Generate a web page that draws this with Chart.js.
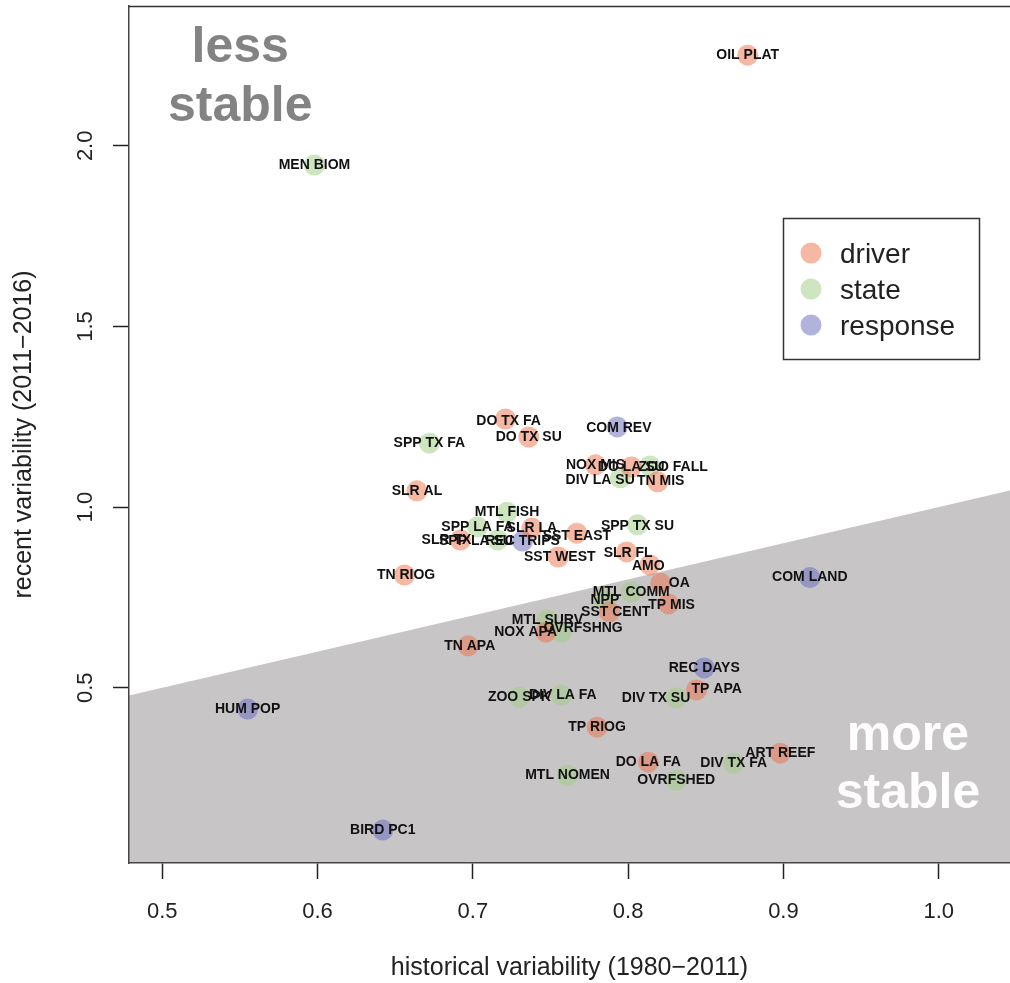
<!DOCTYPE html>
<html><head><meta charset="utf-8">
<script src="https://cdn.jsdelivr.net/npm/chart.js@4.4.1/dist/chart.umd.min.js"></script>
<style>html,body{margin:0;padding:0;background:#fff;overflow:hidden}canvas{display:block}</style>
</head><body>
<canvas id="c" width="1010" height="983"></canvas>
<script>
// ---- data ----
const indicators = ['OIL PLAT','MEN BIOM','DO TX FA','DO TX SU','COM REV','SPP TX FA','SLR AL','NOX MIS','DO LA SU','ZOO FALL',
  'DIV LA SU','TN MIS','MTL FISH','SPP LA FA','SLR LA','REC TRIPS','SST EAST','SLR TX','SPP LA SU','SPP TX SU',
  'SST WEST','SLR FL','AMO','TN RIOG','OA','MTL COMM','NPP','SST CENT','TP MIS','COM LAND',
  'MTL SURV','NOX APA','OVRFSHNG','TN APA','REC DAYS','TP APA','DIV TX SU','ZOO SPK','DIV LA FA','HUM POP',
  'TP RIOG','ART REEF','DIV TX FA','DO LA FA','OVRFSHED','MTL NOMEN','BIRD PC1'];
const groups = ['driver','state','driver','driver','response','state','driver','driver','driver','state',
  'state','driver','state','state','driver','response','driver','driver','state','state',
  'driver','driver','driver','driver','driver','state','state','driver','driver','response',
  'state','driver','state','driver','response','driver','state','state','state','response',
  'driver','driver','state','driver','state','state','response'];
// historical variability (1980-2011)
const historical = [0.877,0.598,0.721,0.736,0.793,0.672,0.664,0.779,0.802,0.814,
  0.795,0.819,0.722,0.703,0.738,0.732,0.767,0.692,0.716,0.806,
  0.755,0.799,0.814,0.656,0.821,0.802,0.785,0.788,0.826,0.917,
  0.748,0.747,0.757,0.697,0.849,0.844,0.831,0.730,0.757,0.555,
  0.780,0.898,0.868,0.813,0.831,0.761,0.642];
// recent variability (2011-2016)
const recent = [2.251,1.947,1.244,1.194,1.222,1.177,1.045,1.117,1.111,1.114,
  1.081,1.070,0.986,0.945,0.942,0.906,0.928,0.909,0.909,0.951,
  0.862,0.876,0.840,0.812,0.789,0.765,0.743,0.710,0.732,0.805,
  0.688,0.654,0.654,0.616,0.555,0.494,0.472,0.474,0.480,0.441,
  0.391,0.319,0.291,0.294,0.244,0.258,0.106];
// text anchors of the labels (data units)
const labelX = [0.877,0.598,0.723,0.736,0.794,0.672,0.664,0.779,0.802,0.829,
  0.782,0.821,0.722,0.703,0.738,0.732,0.767,0.683,0.702,0.806,
  0.756,0.800,0.813,0.657,0.833,0.802,0.785,0.792,0.828,0.917,
  0.748,0.734,0.771,0.698,0.849,0.857,0.818,0.730,0.758,0.555,
  0.780,0.898,0.868,0.813,0.831,0.761,0.642];
const labelY = [2.251,1.947,1.238,1.194,1.219,1.177,1.045,1.117,1.111,1.111,
  1.075,1.072,0.986,0.945,0.942,0.906,0.920,0.909,0.906,0.948,
  0.862,0.873,0.837,0.812,0.789,0.765,0.743,0.710,0.729,0.805,
  0.688,0.654,0.665,0.616,0.555,0.497,0.472,0.474,0.480,0.441,
  0.391,0.319,0.291,0.294,0.244,0.258,0.106];
const groupNames = ['driver','state','response'];
const xTicks = [0.5,0.6,0.7,0.8,0.9,1.0];
const yTicks = [0.5,1.0,1.5,2.0];
const xRange = [0.4786, 1.0459];
const yRange = [0.015, 2.387];

// ---- styles ----
const FONT = "'Liberation Sans', Arial, Helvetica, sans-serif";
const groupColors = {driver:'rgba(238,112,72,0.5)', state:'rgba(158,206,128,0.5)', response:'rgba(100,104,188,0.5)'};

const datasets = groupNames.map(g => ({
  label: g,
  data: indicators.map((n,i)=>({x:historical[i], y:recent[i], i})).filter(d=>groups[d.i]===g),
  backgroundColor: groupColors[g],
  borderWidth: 0,
  pointRadius: 10.5,
  pointHoverRadius: 10.5
}));

const decor = {
  id:'decor',
  beforeDraw(chart){
    const {ctx, chartArea:a, scales:{x,y}} = chart;
    ctx.save();
    ctx.beginPath(); ctx.rect(a.left, a.top, a.right-a.left, a.bottom-a.top); ctx.clip();
    // region below the 1:1 line (recent = historical)
    ctx.beginPath();
    ctx.moveTo(x.getPixelForValue(x.min), y.getPixelForValue(x.min));
    ctx.lineTo(x.getPixelForValue(x.max), y.getPixelForValue(x.max));
    ctx.lineTo(x.getPixelForValue(x.max), a.bottom+2);
    ctx.lineTo(x.getPixelForValue(x.min), a.bottom+2);
    ctx.closePath();
    ctx.fillStyle = '#c7c5c6';
    ctx.fill();
    ctx.restore();
  },
  afterDatasetsDraw(chart){
    const {ctx, scales:{x,y}} = chart;
    ctx.save();
    ctx.font = 'bold 14px ' + FONT;
    ctx.fillStyle = '#111';
    ctx.textAlign = 'center';
    ctx.textBaseline = 'middle';
    indicators.forEach((n,i)=>{
      ctx.fillText(n, x.getPixelForValue(labelX[i]), y.getPixelForValue(labelY[i]));
    });
    // annotations
    ctx.font = 'bold 50px ' + FONT;
    ctx.textBaseline = 'alphabetic';
    ctx.fillStyle = '#838383';
    ctx.fillText('less', x.getPixelForValue(0.5502), y.getPixelForValue(2.2315));
    ctx.fillText('stable', x.getPixelForValue(0.5502), y.getPixelForValue(2.068));
    ctx.fillStyle = '#ffffff';
    ctx.fillText('more', x.getPixelForValue(0.9802), y.getPixelForValue(0.327));
    ctx.fillText('stable', x.getPixelForValue(0.9802), y.getPixelForValue(0.166));
    ctx.restore();
  },
  afterDraw(chart){
    const {ctx, chartArea:a, scales:{x,y}} = chart;
    ctx.save();
    // top frame
    ctx.strokeStyle = '#333'; ctx.lineWidth = 1.5;
    ctx.beginPath(); ctx.moveTo(a.left, a.top+0.5); ctx.lineTo(a.right, a.top+0.5); ctx.stroke();
    // y tick labels (rotated, as in R)
    ctx.fillStyle = '#222';
    ctx.font = '22px ' + FONT;
    ctx.textAlign = 'center'; ctx.textBaseline = 'middle';
    yTicks.forEach(v=>{
      ctx.save();
      ctx.translate(86, y.getPixelForValue(v));
      ctx.rotate(-Math.PI/2);
      ctx.fillText(v.toFixed(1), 0, 0);
      ctx.restore();
    });
    // legend
    const lx = 783.5, ly = 218.5, lw = 196, lh = 141;
    ctx.fillStyle = '#fff'; ctx.fillRect(lx, ly, lw, lh);
    ctx.strokeStyle = '#333'; ctx.lineWidth = 1.5; ctx.strokeRect(lx, ly, lw, lh);
    ctx.font = '28px ' + FONT; ctx.textAlign = 'left'; ctx.textBaseline = 'alphabetic';
    groupNames.forEach((g,k)=>{
      const cy = 253 + k*36;
      ctx.beginPath(); ctx.arc(811, cy, 10.5, 0, Math.PI*2);
      ctx.fillStyle = groupColors[g]; ctx.fill();
      ctx.fillStyle = '#222';
      ctx.fillText(g, 840, cy + 10);
    });
    ctx.restore();
  }
};

new Chart(document.getElementById('c'), {
  type: 'scatter',
  data: { datasets },
  plugins: [decor],
  options: {
    responsive: false,
    animation: false,
    events: [],
    layout: { autoPadding: false, padding: { top: 6, right: 0, bottom: 0, left: 0 } },
    plugins: { legend: { display: false }, tooltip: { enabled: false } },
    scales: {
      x: {
        type: 'linear', position: 'bottom',
        min: xRange[0], max: xRange[1],
        afterBuildTicks: s => { s.ticks = xTicks.map(v=>({value:v})); },
        afterFit: s => { s.height = 120; },
        grid: { drawOnChartArea: false, drawTicks: true, tickLength: 16, color: '#222', tickWidth: 1.5 },
        border: { display: true, color: '#444', width: 1.5 },
        ticks: { color: '#222', font: { family: FONT, size: 22 }, padding: 20, callback: v => Number(v).toFixed(1) },
        title: { display: true, text: 'historical variability (1980\u22122011)', color: '#222',
                 font: { family: FONT, size: 25 }, padding: { top: 0, bottom: 0 } }
      },
      y: {
        type: 'linear', position: 'left',
        min: yRange[0], max: yRange[1],
        afterBuildTicks: s => { s.ticks = yTicks.map(v=>({value:v})); },
        afterFit: s => { s.width = 129; },
        grid: { drawOnChartArea: false, drawTicks: true, tickLength: 16, color: '#222', tickWidth: 1.5 },
        border: { display: true, color: '#444', width: 1.5 },
        ticks: { display: false },
        title: { display: true, text: 'recent variability (2011\u22122016)', color: '#222',
                 font: { family: FONT, size: 25 }, padding: { top: 9, bottom: 0 } }
      }
    }
  }
});
</script>
</body></html>
